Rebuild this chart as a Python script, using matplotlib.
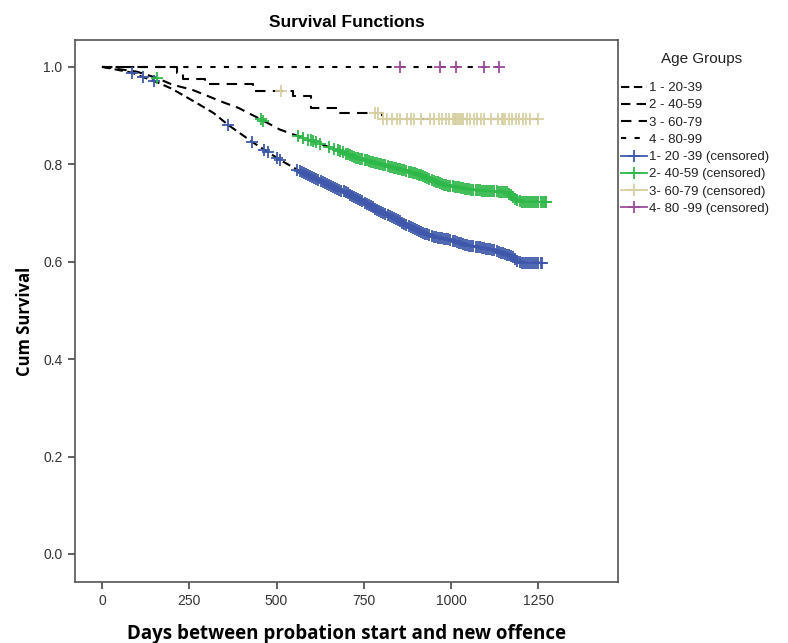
import matplotlib
matplotlib.use("Agg")
import matplotlib.pyplot as plt
from matplotlib.lines import Line2D
import numpy as np

# ---- data ----
g1_days = [0, 86, 117, 149, 200, 266, 320, 361, 430, 475, 510, 576, 640, 702, 750, 796, 850, 902, 948, 997, 1045, 1120, 1177, 1197, 1263]
g1_surv = [1.0, 0.988, 0.979, 0.971, 0.955, 0.928, 0.905, 0.881, 0.846, 0.825, 0.809, 0.782, 0.760, 0.741, 0.722, 0.703, 0.684, 0.665, 0.651, 0.645, 0.634, 0.624, 0.610, 0.598, 0.598]
g1_cens = [86, 117, 149, 361, 430, 465, 475, 500, 510, 560, 566, 572, 578, 584, 590, 596, 602, 608, 614, 620,
           626, 632, 638, 644, 650, 656, 662, 668, 674, 680, 686, 692, 698, 704, 710, 716, 722, 728, 734, 740,
           746, 752, 758, 764, 770, 776, 782, 788, 794, 800, 806, 812, 818, 824, 830, 836, 842, 848, 854, 860,
           866, 872, 878, 884, 890, 896, 902, 908, 914, 920, 926, 932, 938, 944, 950, 956, 962, 968, 974, 980,
           986, 992, 998, 1004, 1010, 1016, 1022, 1028, 1034, 1040, 1046, 1052, 1058, 1064, 1070, 1076, 1082,
           1088, 1094, 1100, 1106, 1112, 1118, 1124, 1130, 1136, 1142, 1148, 1154, 1160, 1166, 1172, 1178,
           1184, 1190, 1196, 1202, 1208, 1214, 1220, 1226, 1232, 1238, 1244, 1250, 1256, 1260]

g2_days = [0, 100, 157, 203, 258, 300, 344, 390, 458, 510, 561, 633, 730, 825, 868, 911, 977, 1063, 1160, 1177, 1197, 1274]
g2_surv = [1.0, 0.990, 0.977, 0.963, 0.953, 0.941, 0.928, 0.916, 0.891, 0.871, 0.858, 0.840, 0.813, 0.795, 0.787, 0.778, 0.758, 0.747, 0.743, 0.733, 0.723, 0.723]
g2_cens = [157, 455, 462, 561, 575, 590, 598, 605, 612, 625, 650, 665, 675, 682, 690, 698, 704, 710, 716,
           722, 728, 734, 740, 746, 752, 758, 764, 770, 776, 782, 788, 794, 800, 806, 812, 818, 824, 830,
           836, 842, 848, 854, 860, 866, 872, 878, 884, 890, 896, 902, 908, 914, 920, 926, 932, 938, 944,
           950, 956, 962, 968, 974, 980, 986, 992, 998, 1004, 1010, 1016, 1022, 1028, 1034, 1040, 1046,
           1052, 1058, 1064, 1070, 1076, 1082, 1088, 1094, 1100, 1106, 1112, 1118, 1124, 1130, 1136, 1142,
           1148, 1154, 1160, 1166, 1172, 1178, 1184, 1190, 1196, 1202, 1208, 1214, 1220, 1226, 1232, 1238,
           1244, 1250, 1256, 1262, 1268, 1272]

g3_days = [0, 215, 232, 295, 432, 547, 598, 679, 802, 1250]
g3_surv = [1.0, 0.987, 0.975, 0.964, 0.951, 0.940, 0.916, 0.906, 0.893, 0.893]
g3_cens = [513, 782, 790, 805, 815, 830, 845, 855, 875, 885, 895, 915, 940, 950, 965, 975, 985, 995, 1005,
           1010, 1015, 1020, 1025, 1030, 1035, 1045, 1055, 1065, 1075, 1085, 1095, 1115, 1135, 1145, 1150,
           1155, 1165, 1175, 1185, 1195, 1205, 1215, 1225, 1248]

g4_days = [0, 1137]
g4_surv = [1.0, 1.0]
g4_cens = [853, 968, 1014, 1094, 1137]

line_labels = ["1 - 20-39", "2 - 40-59", "3 - 60-79", "4 - 80-99"]
cens_labels = ["1- 20 -39 (censored)", "2- 40-59 (censored)", "3- 60-79 (censored)", "4- 80 -99 (censored)"]
legend_title = "Age Groups"
x_ticks = [0, 250, 500, 750, 1000, 1250]
y_ticks = [0.0, 0.2, 0.4, 0.6, 0.8, 1.0]

colors = ["#3f58ab", "#2fb84a", "#d8cfa0", "#9c4d9c"]
dashes = [(4, 2.2), (4.5, 3), (5, 3.5), (2.5, 4)]

fig = plt.figure(figsize=(7.88, 6.43), dpi=100)
ax = fig.add_axes([0.0952, 0.0949, 0.6891, 0.8429])

groups = [
    (g1_days, g1_surv, g1_cens, "default"),
    (g2_days, g2_surv, g2_cens, "default"),
    (g3_days, g3_surv, g3_cens, "steps-post"),
    (g4_days, g4_surv, g4_cens, "steps-post"),
]

for i, (d, s, c, ds) in enumerate(groups):
    ax.plot(d, s, color="black", lw=1.5, dashes=dashes[i], drawstyle=ds, zorder=2)
    if ds == "steps-post":
        cy = [s[max(0, np.searchsorted(d, t, side="right") - 1)] for t in c]
    else:
        cy = np.interp(c, d, s)
    ax.plot(c, cy, ls="none", marker="+", ms=9, mew=1.3, color=colors[i], zorder=3)

ax.set_xlim(-77, 1478)
ax.set_ylim(-0.0575, 1.055)
ax.set_xticks(x_ticks)
ax.set_xticklabels([str(t) for t in x_ticks])
ax.set_yticks(y_ticks)
ax.set_yticklabels([f"{t:.1f}" for t in y_ticks])

for sp in ax.spines.values():
    sp.set_color("#555555")
    sp.set_linewidth(1.2)
ax.tick_params(direction="out", length=5, width=1.2, color="#444444",
               labelsize=10, labelcolor="#333333", pad=4)
for lab in ax.get_xticklabels() + ax.get_yticklabels():
    lab.set_family("Liberation Sans")

ax.set_title("Survival Functions", fontsize=12.5, fontweight="bold",
             family="Liberation Sans", pad=9)
ax.set_xlabel("Days between probation start and new offence", fontsize=13.5,
              fontweight="bold", family="Open Sans", labelpad=11)
ax.set_ylabel("Cum Survival", fontsize=12, fontweight="bold", family="Open Sans")
ax.yaxis.set_label_coords(-0.076, 0.48)

handles = []
for i in range(4):
    handles.append(Line2D([0], [0], color="black", lw=1.5, dashes=dashes[i]))
for i in range(4):
    handles.append(Line2D([0], [0], color=colors[i], lw=1.3, marker="+", ms=9, mew=1.3))

fig.text(702 / 788, 1 - 59 / 643, legend_title, ha="center", va="center",
         family="Liberation Sans", fontsize=11, color="#222222")
leg = fig.legend(handles, line_labels + cens_labels, loc="upper left",
                 bbox_to_anchor=(0.788, 1 - 82 / 643), frameon=False,
                 prop={"family": "Liberation Sans", "size": 9.5},
                 handlelength=2.0, handletextpad=0.15, labelspacing=0.38, borderpad=0,
                 borderaxespad=0)
for t in leg.get_texts():
    t.set_color("#222222")

fig.savefig("out.png", dpi=100)
